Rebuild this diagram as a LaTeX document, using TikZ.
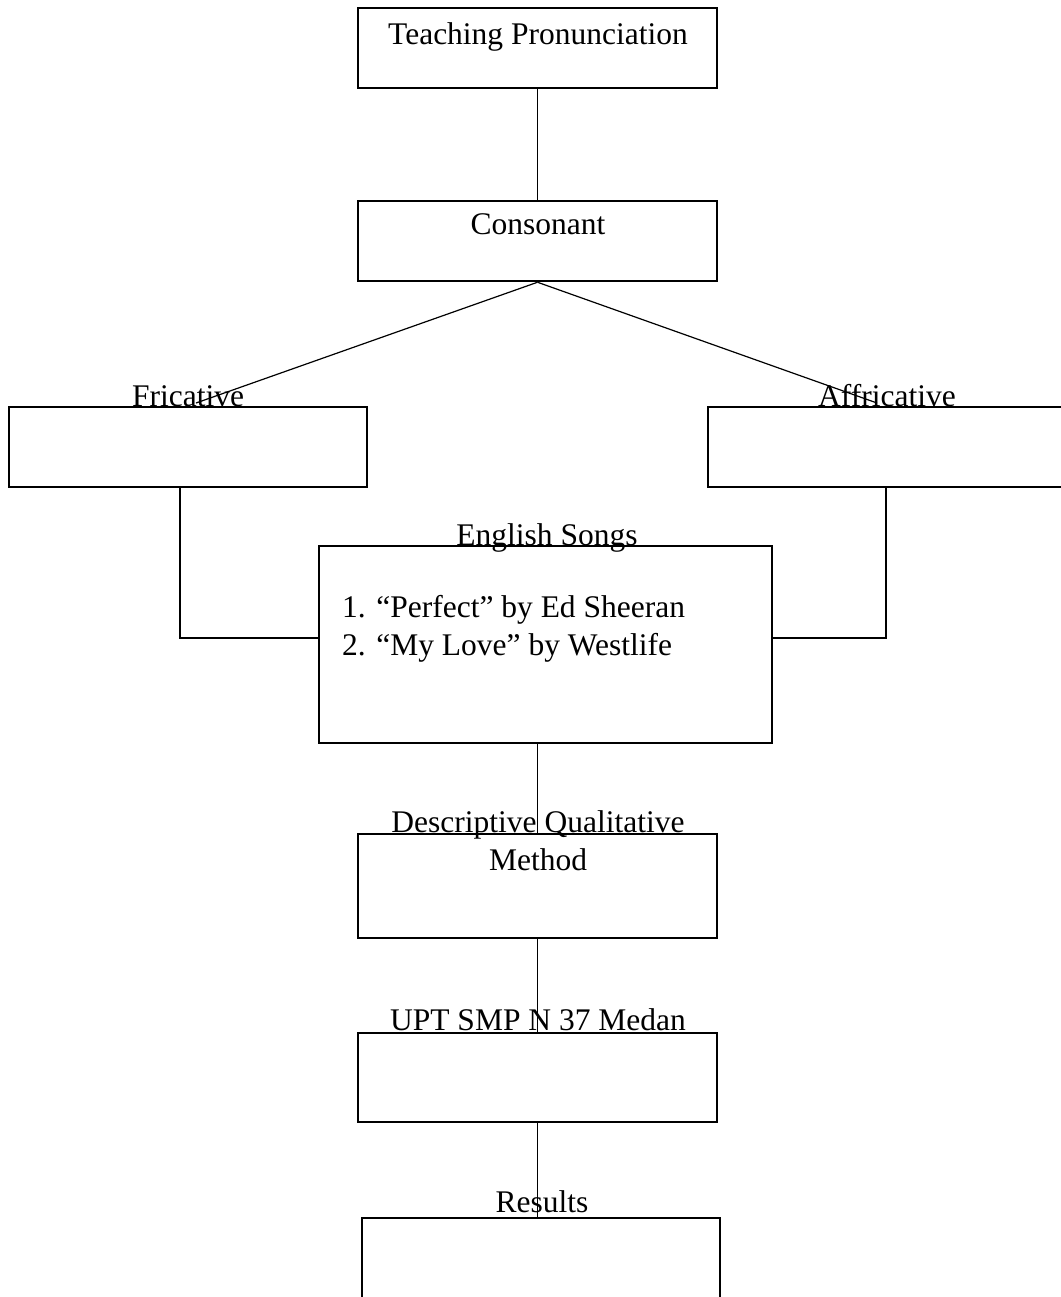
\documentclass[tikz,border=0pt]{standalone}
\usepackage{fontspec}
\setmainfont{Liberation Serif}

\tikzset{
    box/.style={draw, line width=2.5pt, minimum width=359pt, minimum height=80pt},
    link/.style={line width=1.2pt},
    lbl/.style={anchor=base, inner sep=0pt, font=\fontsize{31.5}{38}\selectfont}
}

\begin{document}
\begin{tikzpicture}[x=1pt, y=-1pt]
            \useasboundingbox (0,0) rectangle (1060,1297);

            \node[box] (teach) at (537.5,48) {};
            \node[box] (cons) at (537.5,241) {};
            \node[box, minimum width=358pt] (fric) at (188,447) {};
            \node[box, minimum width=358pt] (affr) at (887,447) {};
            \node[box, minimum width=453pt, minimum height=197pt] (songs) at (545.5,644.5) {};
            \node[box, minimum height=104pt] (desc) at (537.5,886) {};
            \node[box, minimum height=89pt] (upt) at (537.5,1077.5) {};
            \node[box, minimum width=358pt, minimum height=84pt] (res) at (541,1260) {};

            \node[lbl] (teachtext) at (538,45) {Teaching Pronunciation};
            \node[lbl] (constext) at (538,235) {Consonant};
            \node[lbl] (frictext) at (188,406) {Fricative};
            \node[lbl] (affrtext) at (887,406) {Affricative};
            \node[lbl] (songstext) at (547,545) {English Songs};
            \node[lbl, anchor=base west] (songone) at (342,617) {1. “Perfect” by Ed Sheeran};
            \node[lbl, anchor=base west] (songtwo) at (342,655) {2. “My Love” by Westlife};
            \node[lbl] (desctext) at (538,832) {Descriptive Qualitative};
            \node[lbl] (methodtext) at (538,870) {Method};
            \node[lbl] (upttext) at (538,1030) {UPT SMP N 37 Medan};
            \node[lbl] (restext) at (542,1212) {Results};

            \coordinate (fricend) at (196,403);
            \coordinate (affrend) at (877,403);
            \coordinate (fricturn) at (180,638);
            \coordinate (affrturn) at (886,638);

            \draw[link] (teach.south) -- (cons.north);
            \draw[link] (cons.south) -- (fricend);
            \draw[link] (cons.south) -- (affrend);
            \draw[link] (fric.south -| fricturn) -- (fricturn) -- (songs.west |- fricturn);
            \draw[link] (affr.south -| affrturn) -- (affrturn) -- (songs.east |- affrturn);
            \draw[link] (desc.north |- songs.south) -- (desc.north);
            \draw[link] (desc.south) -- (upt.north);
            \draw[link] (upt.south) -- (upt.south |- res.north);
        \end{tikzpicture}
\end{document}
